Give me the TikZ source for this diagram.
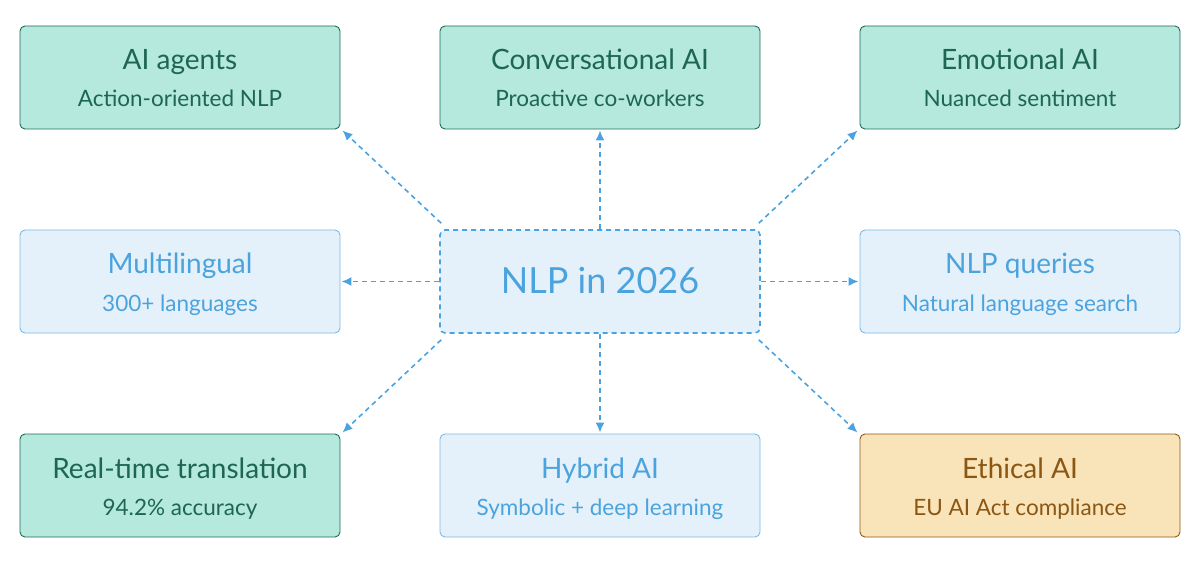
\documentclass[tikz,border=0pt]{standalone}
\usepackage{fontspec}
\setmainfont{Lato}
\usetikzlibrary{arrows.meta}
\definecolor{gfill}{HTML}{B5E9DD}
\definecolor{gline}{HTML}{1F6B55}
\definecolor{gtext}{HTML}{1D6651}
\definecolor{bfill}{HTML}{E4F1FA}
\definecolor{bline}{HTML}{7DB9E6}
\definecolor{btext}{HTML}{4BA3DE}
\definecolor{ofill}{HTML}{F9E3B8}
\definecolor{oline}{HTML}{8F5A14}
\definecolor{otext}{HTML}{8B5712}
\definecolor{arr}{HTML}{4AA3E0}
\tikzset{
  box/.style={draw, rounded corners=5pt, minimum width=320pt, minimum height=103pt, line width=0.9pt, inner sep=0pt},
  gbox/.style={box, fill=gfill, draw=gline},
  bbox/.style={box, fill=bfill, draw=bline},
  obox/.style={box, fill=ofill, draw=oline},
  ttl/.style={font=\fontsize{28}{28}\selectfont, inner sep=0pt, anchor=base},
  sub/.style={font=\fontsize{22.5}{23}\selectfont, inner sep=0pt, anchor=base},
  conn/.style={draw=arr, line width=1.6pt, dash pattern=on 5pt off 4pt, -{Latex[length=10pt,width=9pt]}},
}
\begin{document}
\begin{tikzpicture}[x=1pt,y=-1pt]
\useasboundingbox (0,0) rectangle (1200,564);
% boxes
\node[gbox] (ag) at (180,77.5) {};
\node[gbox] (cv) at (600,77.5) {};
\node[gbox] (em) at (1020,77.5) {};
\node[bbox] (ml) at (180,281.5) {};
\node[bbox, draw=arr, dash pattern=on 5pt off 4pt, line width=1.6pt] (c) at (600,281.5) {};
\node[bbox] (nq) at (1020,281.5) {};
\node[gbox] (rt) at (180,485.5) {};
\node[bbox] (hy) at (600,485.5) {};
\node[obox] (et) at (1020,485.5) {};
% texts
\node[ttl, text=gtext] (agt) at (180,70) {AI agents};
\node[sub, text=gtext] (ags) at (180,107) {Action-oriented NLP};
\node[ttl, text=gtext] (cvt) at (600,70) {Conversational AI};
\node[sub, text=gtext] (cvs) at (600,107) {Proactive co-workers};
\node[ttl, text=gtext] (emt) at (1020,70) {Emotional AI};
\node[sub, text=gtext] (ems) at (1020,107) {Nuanced sentiment};
\node[ttl, text=btext] (mlt) at (180,274) {Multilingual};
\node[sub, text=btext] (mls) at (180,311) {300+ languages};
\node[font=\fontsize{36}{36}\selectfont, text=btext, inner sep=0pt, anchor=base] (ct) at (600,294) {NLP in 2026};
\node[ttl, text=btext] (nqt) at (1020,274) {NLP queries};
\node[sub, text=btext] (nqs) at (1020,311) {Natural language search};
\node[ttl, text=gtext] (rtt) at (180,478) {Real-time translation};
\node[sub, text=gtext] (rts) at (180,515) {94.2\% accuracy};
\node[ttl, text=btext] (hyt) at (600,478) {Hybrid AI};
\node[sub, text=btext] (hys) at (600,515) {Symbolic + deep learning};
\node[ttl, text=otext] (ett) at (1020,478) {Ethical AI};
\node[sub, text=otext] (ets) at (1020,515) {EU AI Act compliance};
% connectors
\draw[conn] ([shift={(2,-6)}]c.north west) -- ([shift={(2,1)}]ag.south east);
\draw[conn] (c.north) -- ([yshift=-1]cv.south);
\draw[conn] ([shift={(-2,-6)}]c.north east) -- ([shift={(-2,1)}]em.south west);
\draw[conn] (c.west) -- ([xshift=1]ml.east);
\draw[conn] (c.east) -- ([xshift=-1]nq.west);
\draw[conn] ([shift={(2,6)}]c.south west) -- ([shift={(2,-1)}]rt.north east);
\draw[conn] (c.south) -- ([yshift=1]hy.north);
\draw[conn] ([shift={(-2,6)}]c.south east) -- ([shift={(-2,-1)}]et.north west);
\end{tikzpicture}
\end{document}
